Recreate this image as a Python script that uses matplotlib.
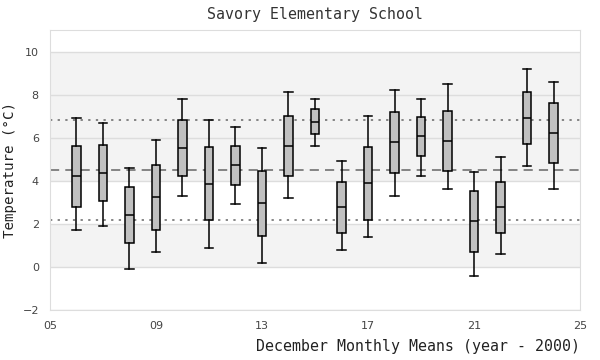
import numpy as np
import matplotlib
matplotlib.use("Agg")
import matplotlib.pyplot as plt

# December monthly means per year (year - 2000)
years = [6, 7, 8, 9, 10, 11, 12, 13, 14, 15, 16, 17, 18, 19, 20, 21, 22, 23, 24]
whisker_low = [1.72, 1.91, -0.09, 0.70, 3.30, 0.88, 2.93, 0.19, 3.21, 5.63,
               0.79, 1.40, 3.30, 4.23, 3.63, -0.42, 0.60, 4.70, 3.63]
q1 = [2.79, 3.05, 1.12, 1.72, 4.23, 2.19, 3.81, 1.44, 4.23, 6.19,
      1.58, 2.19, 4.37, 5.16, 4.47, 0.70, 1.58, 5.72, 4.84]
median = [4.23, 4.37, 2.42, 3.26, 5.53, 3.86, 4.74, 2.98, 5.63, 6.74,
          2.79, 3.91, 5.81, 6.09, 5.86, 2.14, 2.79, 6.93, 6.23]
q3 = [5.63, 5.67, 3.72, 4.74, 6.84, 5.58, 5.63, 4.47, 7.02, 7.35,
      3.95, 5.58, 7.21, 6.98, 7.26, 3.53, 3.95, 8.14, 7.63]
whisker_high = [6.91, 6.70, 4.60, 5.91, 7.80, 6.84, 6.51, 5.53, 8.14, 7.80,
                4.93, 7.02, 8.23, 7.81, 8.51, 4.42, 5.12, 9.21, 8.60]

overall_mean = 4.5
band_lo, band_hi = 2.18, 6.84

# light grey background bands
bands = [(0, 2), (4, 10)]

x_ticks = [5, 9, 13, 17, 21, 25]
x_ticklabels = ["05", "09", "13", "17", "21", "25"]
y_ticks = [-2, 0, 2, 4, 6, 8, 10]

stats = []
for i in range(len(years)):
    stats.append({
        "whislo": whisker_low[i], "q1": q1[i], "med": median[i],
        "q3": q3[i], "whishi": whisker_high[i], "fliers": [],
    })

fig = plt.figure(figsize=(6, 3.6), dpi=100)
ax = fig.add_axes([0.0833, 0.139, 0.8834, 0.7777])

for lo, hi in bands:
    ax.axhspan(lo, hi, color="#f3f3f3", zorder=0, lw=0)
for y in y_ticks:
    ax.axhline(y, color="#dddddd", lw=1, zorder=1)

ax.axhline(overall_mean, color="#666666", lw=1.1, ls=(0, (6, 4)), zorder=2)
ax.axhline(band_lo, color="#666666", lw=1.1, ls=(0, (1.5, 3.5)), zorder=2)
ax.axhline(band_hi, color="#666666", lw=1.1, ls=(0, (1.5, 3.5)), zorder=2)

ax.bxp(stats, positions=years, widths=0.32, patch_artist=True,
       showfliers=False,
       boxprops=dict(facecolor="#c0c0c0", edgecolor="black", lw=1.1),
       medianprops=dict(color="black", lw=1.1),
       whiskerprops=dict(color="black", lw=1.1),
       capprops=dict(color="black", lw=1.1),
       capwidths=0.32, manage_ticks=False, zorder=3)

ax.set_xlim(5, 25)
ax.set_ylim(-2, 11)
ax.set_xticks(x_ticks)
ax.set_xticklabels(x_ticklabels)
ax.set_yticks(y_ticks)
ax.tick_params(length=0, labelsize=8, colors="#444444", pad=8)
for s in ax.spines.values():
    s.set_color("#dddddd")

mono = "DejaVu Sans Mono"
ax.set_title("Savory Elementary School", family=mono, fontsize=10.7,
             color="#333333", pad=8)
fig.text(0.9667, 1 - 347 / 360, "December Monthly Means (year - 2000)",
         family=mono, fontsize=10.7, color="#222222", ha="right", va="center")
ax.set_ylabel("Temperature (°C)", family=mono, fontsize=10.2, color="#222222")
ax.yaxis.set_label_coords(-0.062, 0.5)

fig.savefig("out.png", dpi=100)
